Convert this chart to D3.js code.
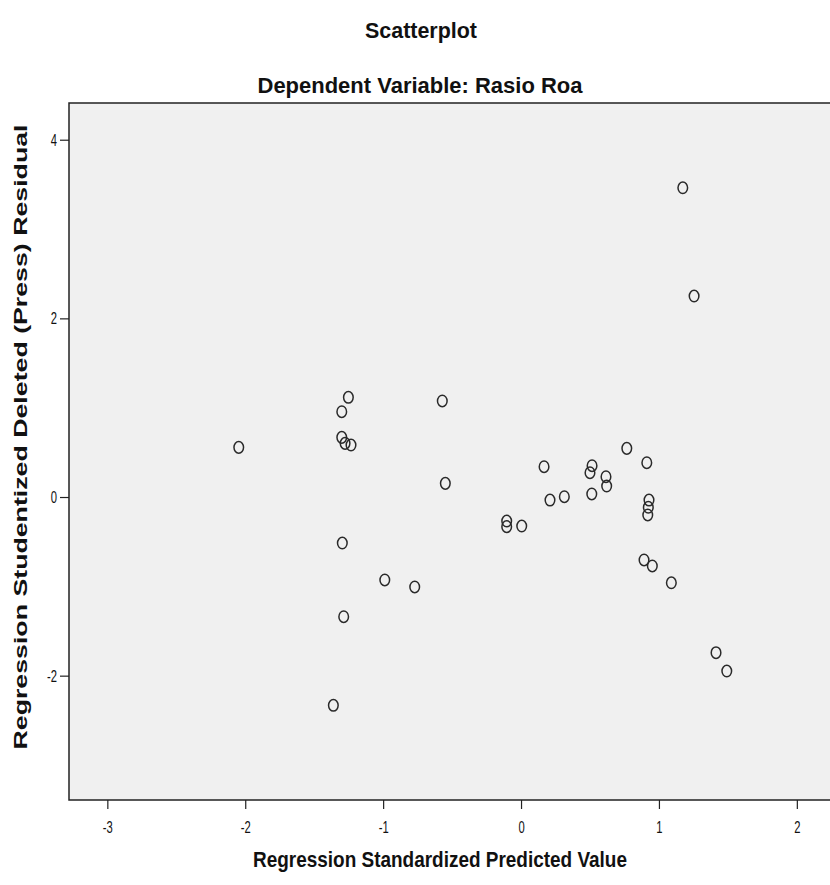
<!DOCTYPE html>
<html>
<head>
<meta charset="utf-8">
<script src="https://cdn.jsdelivr.net/npm/d3@7"></script>
<style>
  html, body { margin: 0; padding: 0; background: #ffffff; }
  svg { display: block; }
</style>
</head>
<body>
<svg id="chart" width="830" height="885"></svg>
<script>
// ---- Data ----
const predicted = [
  -2.047, -1.252, -1.300, -0.571, -1.300, -1.276, -1.233, -0.549, -1.296,
  -0.988, -0.771, -1.286, -1.361, 0.767, 0.167, 0.515, 0.500, 0.912,
  0.616, 0.621, 0.210, 0.314, 0.513, 0.928, 0.923, 0.919, -0.104,
  -0.104, 0.005, 0.892, 0.952, 1.090, 1.173, 1.255, 1.414, 1.492
];
const residual = [
  0.556, 1.116, 0.955, 1.075, 0.668, 0.601, 0.582, 0.153, -0.515,
  -0.929, -1.007, -1.340, -2.332, 0.545, 0.339, 0.350, 0.272, 0.384,
  0.227, 0.123, -0.034, 0.003, 0.034, -0.034, -0.115, -0.201, -0.269,
  -0.332, -0.325, -0.705, -0.772, -0.960, 3.462, 2.250, -1.743, -1.948
];
const xTicks = [-3, -2, -1, 0, 1, 2];
const yTicks = [-2, 0, 2, 4];
const xDomain = [-3.278, 2.255];
const yDomain = [-3.392, 4.411];
const titleText = "Scatterplot";
const subtitleText = "Dependent Variable: Rasio Roa";
const xTitle = "Regression Standardized Predicted Value";
const yTitle = "Regression Studentized Deleted (Press) Residual";

const points = predicted.map((x, i) => ({ x: x, y: residual[i] }));

// ---- Layout ----
const svg = d3.select("#chart");
const plot = { left: 69, top: 103, right: 832, bottom: 800 };
const FONT = "'Liberation Sans', Arial, sans-serif";

const x = d3.scaleLinear().domain(xDomain).range([plot.left, plot.right]);
const y = d3.scaleLinear().domain(yDomain).range([plot.bottom, plot.top]);

// condense a text node horizontally (reference uses a tall, narrow face)
function condense(sel, factor) {
  sel.each(function () {
    const len = this.getComputedTextLength();
    d3.select(this).attr("textLength", len * factor).attr("lengthAdjust", "spacingAndGlyphs");
  });
}

// plot background
svg.append("rect")
  .attr("x", plot.left).attr("y", plot.top)
  .attr("width", plot.right - plot.left).attr("height", plot.bottom - plot.top)
  .attr("fill", "#f0f0f0")
  .attr("stroke", "#222").attr("stroke-width", 1.5);

// axes
const fmt = d => String(d);
const xAxis = d3.axisBottom(x).tickValues(xTicks).tickSize(9).tickPadding(12).tickSizeOuter(0)
  .tickFormat(fmt);
const gx = svg.append("g").attr("transform", `translate(0,${plot.bottom})`).call(xAxis);
gx.select(".domain").remove();
gx.selectAll("line").attr("stroke", "#222").attr("stroke-width", 1.2);
gx.selectAll("text").attr("font-family", FONT).attr("font-size", 17).attr("fill", "#111")
  .call(condense, 0.66);

const yAxis = d3.axisLeft(y).tickValues(yTicks).tickSize(9).tickPadding(3).tickSizeOuter(0)
  .tickFormat(fmt);
const gy = svg.append("g").attr("transform", `translate(${plot.left},0)`).call(yAxis);
gy.select(".domain").remove();
gy.selectAll("line").attr("stroke", "#222").attr("stroke-width", 1.2);
gy.selectAll("text").attr("font-family", FONT).attr("font-size", 17).attr("fill", "#111")
  .call(condense, 0.66);

// points (hollow circles)
svg.append("g").selectAll("ellipse")
  .data(points)
  .join("ellipse")
  .attr("cx", d => x(d.x))
  .attr("cy", d => y(d.y))
  .attr("rx", 4.8).attr("ry", 5.8)
  .attr("fill", "none")
  .attr("stroke", "#2a2a2a")
  .attr("stroke-width", 1.5);

// titles
svg.append("text")
  .attr("x", 421).attr("y", 38)
  .attr("text-anchor", "middle").attr("font-family", FONT)
  .attr("font-size", 22).attr("font-weight", "bold").attr("fill", "#111")
  .attr("textLength", 112).attr("lengthAdjust", "spacingAndGlyphs")
  .text(titleText);
svg.append("text")
  .attr("x", 420).attr("y", 93)
  .attr("text-anchor", "middle").attr("font-family", FONT)
  .attr("font-size", 22).attr("font-weight", "bold").attr("fill", "#111")
  .attr("textLength", 325).attr("lengthAdjust", "spacingAndGlyphs")
  .text(subtitleText);

svg.append("text")
  .attr("x", 440).attr("y", 867)
  .attr("text-anchor", "middle").attr("font-family", FONT)
  .attr("font-size", 22).attr("font-weight", "bold").attr("fill", "#111")
  .attr("textLength", 374).attr("lengthAdjust", "spacingAndGlyphs")
  .text(xTitle);

svg.append("text")
  .attr("transform", `translate(27,${437}) rotate(-90)`)
  .attr("text-anchor", "middle")
  .attr("font-family", FONT)
  .attr("font-size", 18).attr("font-weight", "bold").attr("fill", "#111")
  .attr("textLength", 625).attr("lengthAdjust", "spacingAndGlyphs")
  .text(yTitle);
</script>
</body>
</html>
